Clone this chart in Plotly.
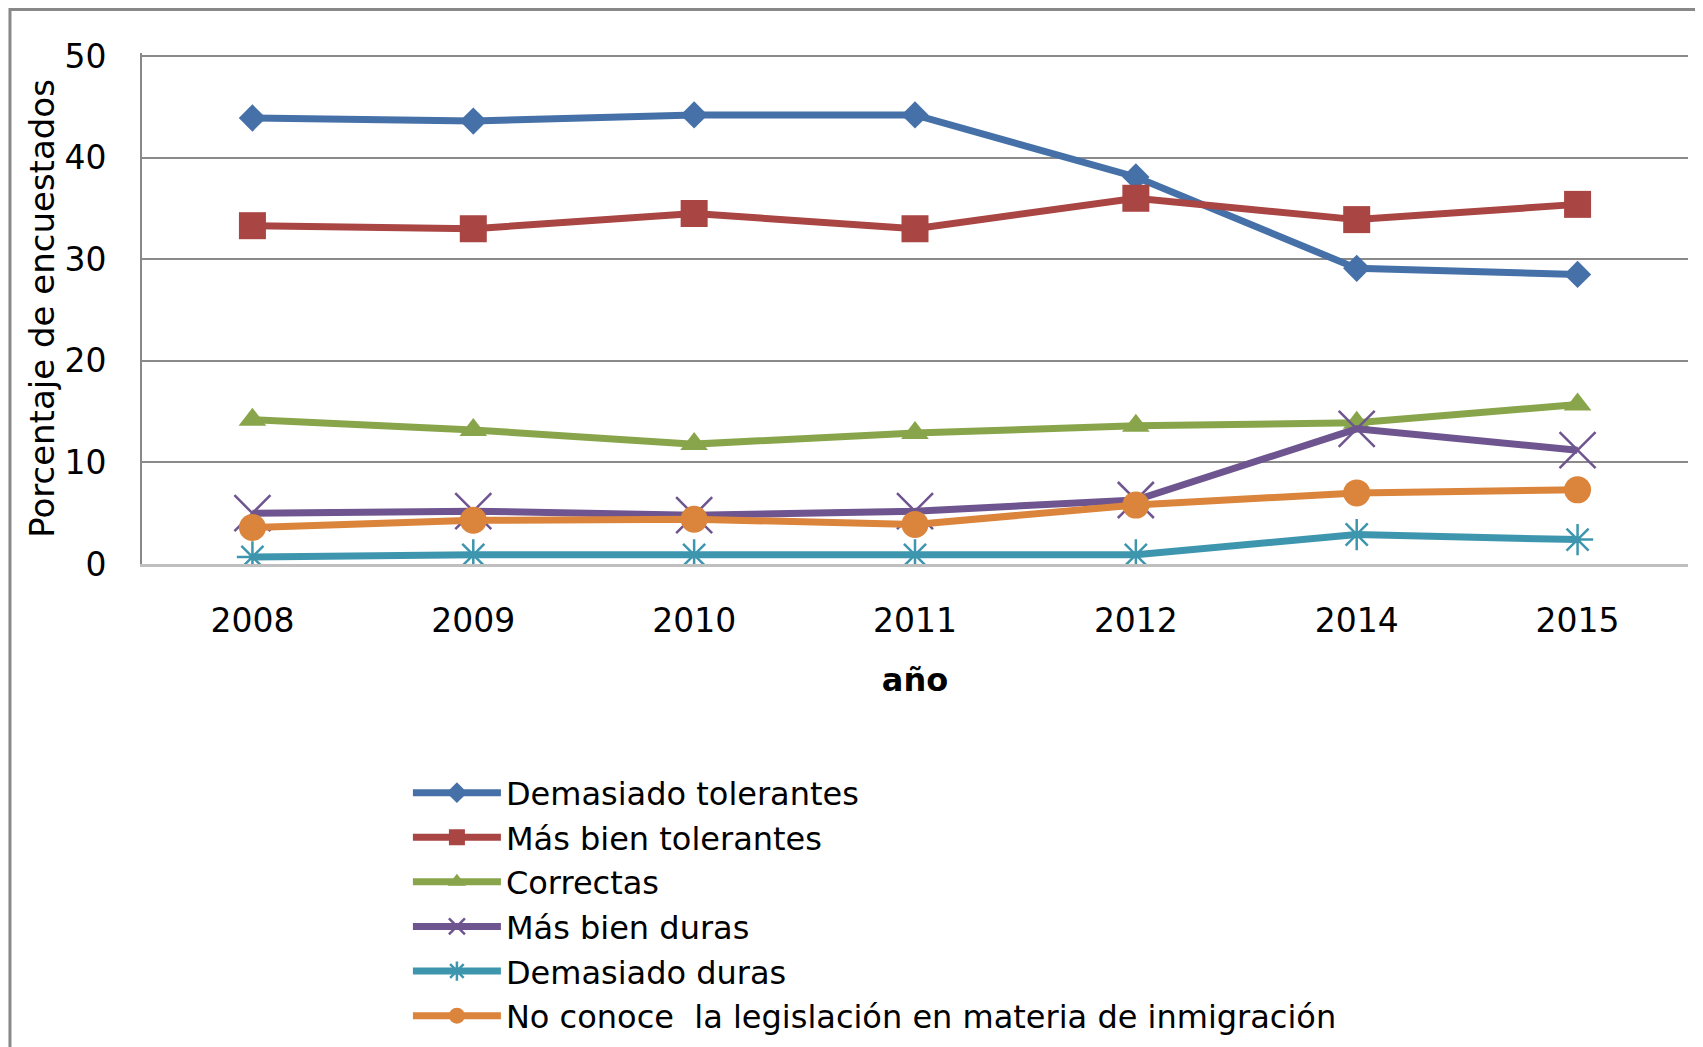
import plotly.graph_objects as go

years = ["2008", "2009", "2010", "2011", "2012", "2014", "2015"]

demasiado_tolerantes = [43.9, 43.6, 44.2, 44.2, 38.1, 29.1, 28.5]
mas_bien_tolerantes = [33.3, 33.0, 34.5, 33.0, 36.0, 33.9, 35.4]
correctas = [14.2, 13.2, 11.8, 12.9, 13.6, 13.9, 15.7]
mas_bien_duras = [5.0, 5.2, 4.8, 5.2, 6.3, 13.3, 11.2]
demasiado_duras = [0.7, 0.9, 0.9, 0.9, 0.9, 2.9, 2.4]
no_conoce = [3.6, 4.3, 4.4, 3.9, 5.8, 7.0, 7.3]

y_ticks = [0, 10, 20, 30, 40, 50]

series = [
    ("Demasiado tolerantes", demasiado_tolerantes, "#4571A8", "diamond", 21),
    ("Más bien tolerantes", mas_bien_tolerantes, "#A94543", "square", 27),
    ("Correctas", correctas, "#89A54B", "triangle-up", 24),
    ("Más bien duras", mas_bien_duras, "#6E558F", "x-thin-open", 36),
    ("Demasiado duras", demasiado_duras, "#3E96AE", "asterisk-open", 26),
    ("No conoce  la legislación en materia de inmigración", no_conoce, "#DB843B", "circle", 27),
]

FONT = "DejaVu Sans"

fig = go.Figure()
for name, values, color, symbol, size in series:
    thin = symbol.endswith("open")
    fig.add_trace(
        go.Scatter(
            x=years,
            y=values,
            name=name,
            mode="lines+markers",
            line=dict(color=color, width=7),
            marker=dict(
                symbol=symbol,
                size=size,
                color=color,
                line=dict(color=color, width=2.5 if thin else 0),
            ),
        )
    )

# page body adds 8px, margins compensate
fig.update_layout(
    width=1703,
    height=1047,
    margin=dict(l=134, r=23, t=45, b=491, autoexpand=False),
    plot_bgcolor="white",
    paper_bgcolor="white",
    font=dict(family=FONT, size=33, color="black"),
    showlegend=True,
    legend=dict(
        x=0.172,
        y=-0.394,
        xanchor="left",
        yanchor="top",
        font=dict(family=FONT, size=32, color="black"),
        itemwidth=88,
        tracegroupgap=0,
        bgcolor="rgba(0,0,0,0)",
    ),
    shapes=[
        dict(
            type="rect",
            xref="paper",
            yref="paper",
            x0=-0.0854,
            x1=1.3,
            y0=-1.5,
            y1=1.085,
            line=dict(color="#888888", width=3),
            fillcolor="rgba(0,0,0,0)",
            layer="below",
        )
    ],
)

fig.update_xaxes(
    type="category",
    range=[-0.5, 6.5],
    automargin=False,
    showline=True,
    linecolor="#BFBFBF",
    linewidth=3,
    showgrid=False,
    ticks="",
    ticklabelstandoff=25,
    tickfont=dict(family=FONT, size=33),
    title=dict(text="<b>año</b>", font=dict(family=FONT, size=32), standoff=31),
)
fig.update_yaxes(
    range=[0, 50.3],
    tickvals=y_ticks,
    automargin=False,
    showline=True,
    linecolor="#888888",
    linewidth=2,
    showgrid=True,
    gridcolor="#8A8A8A",
    gridwidth=2,
    zeroline=False,
    ticks="",
    ticklabelstandoff=27,
    tickfont=dict(family=FONT, size=33),
    title=dict(text="Porcentaje de encuestados", font=dict(family=FONT, size=34), standoff=0),
)

fig.write_html("out.html")
